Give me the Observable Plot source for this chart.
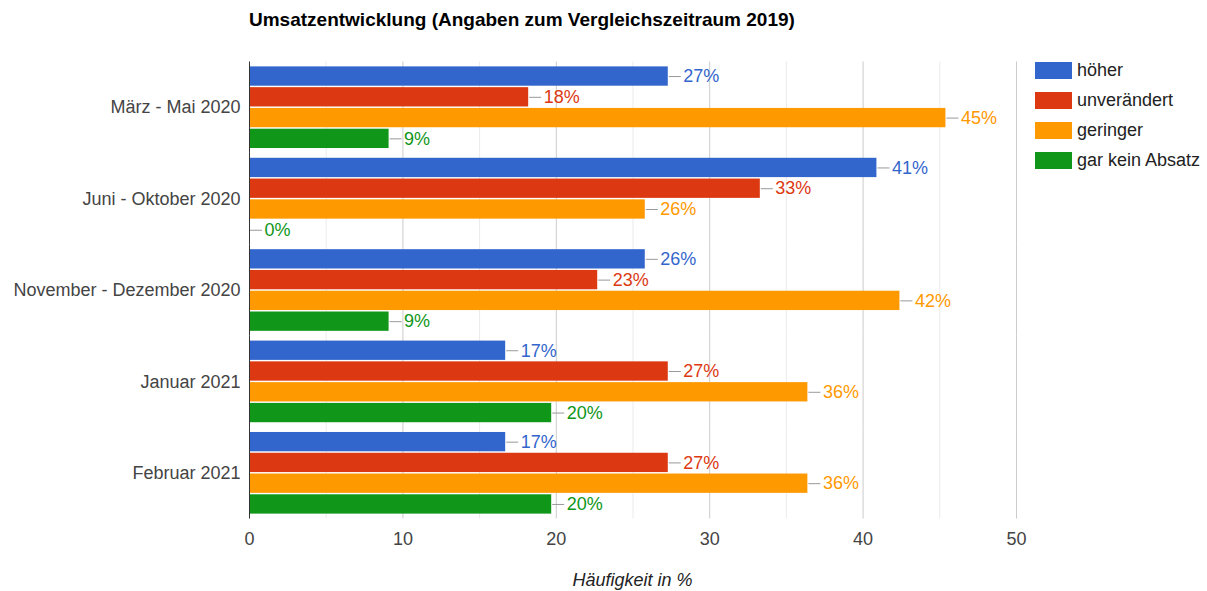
<!DOCTYPE html>
<html><head><meta charset="utf-8">
<script src="https://cdn.jsdelivr.net/npm/d3@7"></script>
<script src="https://cdn.jsdelivr.net/npm/@observablehq/plot@0.6"></script>
<style>
body{margin:0;background:#fff;font-family:Arial,"Liberation Sans",sans-serif;}
#wrap{position:relative;width:1207px;height:591px;overflow:hidden;}
#title{position:absolute;left:249px;top:9px;font-weight:bold;font-size:19px;color:#000;white-space:nowrap;}
#legend{position:absolute;left:1035px;top:55px;}
.item{display:flex;align-items:center;height:30px;font-size:18px;color:#222;white-space:nowrap;}
.sw{width:37px;height:17px;margin-right:5px;}
#xlabel{position:absolute;left:249px;width:767px;top:569px;text-align:center;font-style:italic;font-size:18px;line-height:22px;color:#222;}
#chart{position:absolute;left:0;top:0;}
</style></head>
<body>
<div id="wrap">
  <div id="chart"></div>
  <div id="title"></div>
  <div id="legend"></div>
  <div id="xlabel"></div>
</div>
<script>
const titleText = "Umsatzentwicklung (Angaben zum Vergleichszeitraum 2019)";
const xLabelText = "Häufigkeit in %";
const periods = ["März - Mai 2020", "Juni - Oktober 2020", "November - Dezember 2020", "Januar 2021", "Februar 2021"];
const series = ["höher", "unverändert", "geringer", "gar kein Absatz"];
const colors = ["#3366cc", "#dc3912", "#ff9900", "#109618"];
const hoeher = [27.3, 40.9, 25.8, 16.7, 16.7];
const unveraendert = [18.2, 33.3, 22.7, 27.3, 27.3];
const geringer = [45.4, 25.8, 42.4, 36.4, 36.4];
const garKeinAbsatz = [9.1, 0, 9.1, 19.7, 19.7];
const xTicks = [0, 10, 20, 30, 40, 50];
const minorTicks = [5, 15, 25, 35, 45];

const seriesValues = [hoeher, unveraendert, geringer, garKeinAbsatz];
const data = [];
periods.forEach((p, i) => {
  series.forEach((s, j) => {
    data.push({period: p, series: s, value: seriesValues[j][i]});
  });
});

document.getElementById("title").textContent = titleText;
document.getElementById("xlabel").textContent = xLabelText;
const legend = document.getElementById("legend");
series.forEach((s, j) => {
  const it = document.createElement("div");
  it.className = "item";
  const sw = document.createElement("div");
  sw.className = "sw";
  sw.style.background = colors[j];
  const tx = document.createElement("span");
  tx.textContent = s;
  it.appendChild(sw); it.appendChild(tx);
  legend.appendChild(it);
});

const chart = Plot.plot({
  width: 1207,
  height: 591,
  marginLeft: 249,
  marginRight: 191,
  marginTop: 61.5,
  marginBottom: 72.5,
  style: {fontSize: "18px", fontFamily: "Arial, 'Liberation Sans', sans-serif", color: "#444", background: "transparent"},
  x: {domain: [0, 50], ticks: xTicks, tickSize: 0, tickPadding: 13, label: null},
  y: {domain: series, paddingInner: 0.07, paddingOuter: 0.235, axis: null, round: false},
  fy: {domain: periods, padding: 0, label: null, tickSize: 0, tickPadding: 9, round: false},
  color: {domain: series, range: colors},
  marks: [
    Plot.ruleX(minorTicks, {stroke: "#ebebeb", strokeWidth: 1}),
    Plot.ruleX(xTicks.slice(1), {stroke: "#cccccc", strokeWidth: 1}),
    Plot.barX(data, {x: "value", y: "series", fy: "period", fill: "series"}),
    Plot.ruleY(data, {y: "series", fy: "period", x1: "value", x2: "value", insetLeft: 1, insetRight: -13, stroke: "#999", strokeWidth: 1}),
    Plot.text(data, {x: "value", y: "series", fy: "period", text: d => Math.round(d.value) + "%", dx: 15, textAnchor: "start", fill: "series", fontSize: 18}),
    Plot.ruleX([0], {stroke: "#333", strokeWidth: 1})
  ]
});
document.getElementById("chart").appendChild(chart);
</script>
</body></html>
